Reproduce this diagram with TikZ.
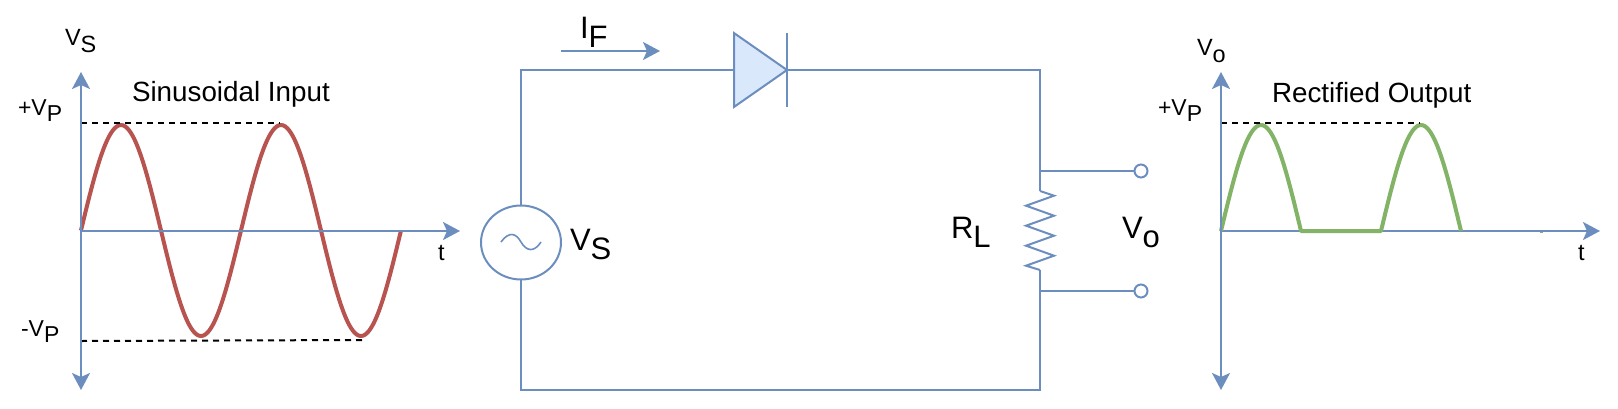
\documentclass[tikz,border=0pt]{standalone}
\usepackage{fontspec}
\setmainfont{Liberation Sans}
\usetikzlibrary{arrows.meta,shapes.geometric}
\definecolor{wireblue}{HTML}{6C8EBF}
\definecolor{diodefill}{HTML}{DAE8FC}
\definecolor{inred}{HTML}{B85450}
\definecolor{outgreen}{HTML}{82B366}
\newcommand{\lowsub}[2]{#1\raisebox{-0.3em}{#2}}
\tikzstyle{wire}=[draw=wireblue,line width=2pt]
\tikzstyle{axis}=[draw=wireblue,line width=2.2pt,arrows={Stealth[length=17pt,width=18pt,inset=4pt]-Stealth[length=17pt,width=18pt,inset=4pt]}]
\tikzstyle{flow}=[draw=wireblue,line width=2.2pt,-{Stealth[length=17pt,width=18pt,inset=4pt]}]
\tikzstyle{level}=[draw=black,line width=2pt,dash pattern=on 6pt off 5pt]
\tikzstyle{wave}=[line width=4pt,line join=round]
\tikzstyle{txt}=[anchor=base west,inner sep=0pt,outer sep=0pt,font=\fontsize{27.8pt}{30pt}\selectfont]
\tikzstyle{small}=[txt,font=\fontsize{23pt}{26pt}\selectfont]
\tikzstyle{mid}=[txt,font=\fontsize{23.5pt}{26pt}\selectfont]
\tikzstyle{big}=[txt,font=\fontsize{31pt}{34pt}\selectfont]
\tikzstyle{terminal}=[circle,draw=wireblue,line width=2pt,fill=white,minimum size=13pt,inner sep=0pt,outer sep=0pt]

\begin{document}
\begin{tikzpicture}[x=1pt,y=-1pt]
  \useasboundingbox (0,0) rectangle (1618,408);

  \coordinate (inO) at (81,231);
  \coordinate (inTop) at (81,72);
  \coordinate (inBot) at (81,390);
  \coordinate (inEnd) at (460,231);
  \coordinate (inHiA) at (81,123);
  \coordinate (inHiB) at (280,123);
  \coordinate (inLoA) at (81,341);
  \coordinate (inLoB) at (363,340);
  \draw[wave,draw=inred] plot[domain=0:320,samples=161,smooth] ({81+\x},{230.5-105.5*sin(\x*2.25)});
  \draw[level] (inHiA) -- (inHiB);
  \draw[level] (inLoA) -- (inLoB);
  \draw[axis] (inBot) -- (inTop);
  \draw[flow] (inO) -- (inEnd);
  \node[mid] (inV) at (65,45) {\lowsub{V}{S}};
  \node[txt] (inTitle) at (132,101) {Sinusoidal Input};
  \node[small] (inHi) at (18,115) {+\lowsub{V}{P}};
  \node[small] (inLo) at (21,336) {-\lowsub{V}{P}};
  \node[mid] (inT) at (438,260) {t};

  \node[ellipse,draw=wireblue,line width=2pt,minimum width=80pt,minimum height=74pt,inner sep=0pt,outer sep=0pt] (source) at (521,242.5) {};
  \draw[draw=wireblue,line width=1.6pt] (501,242) .. controls (509,231) and (516,233) .. (521,242) .. controls (526,251) and (534,253) .. (541,242);
  \node[isosceles triangle,isosceles triangle apex angle=69.8,draw=wireblue,fill=diodefill,line width=2pt,minimum height=53pt,inner sep=0pt,outer sep=0pt,anchor=apex] (diode) at (787,70) {};
  \coordinate (barTop) at (787,33);
  \coordinate (barBot) at (787,107);
  \coordinate (topRight) at (1040,70);
  \coordinate (botRight) at (1040,390);
  \coordinate (botLeft) at (521,390);
  \coordinate (resTop) at (1040,191);
  \coordinate (resBot) at (1040,270);
  \coordinate (tapA) at (1040,171);
  \coordinate (tapB) at (1040,291);
  \coordinate (flowA) at (561,51);
  \coordinate (flowB) at (660,51);
  \node[terminal] (termA) at (1141,171) {};
  \node[terminal] (termB) at (1141,291) {};
  \draw[wire] (source.north) |- (diode.lower side);
  \draw[wire] (barTop) -- (barBot);
  \draw[wire] (diode.apex) -- (topRight) -- (resTop);
  \draw[wire] (resTop) -- ++(14,4.7) -- ++(-28,10) -- ++(28,10) -- ++(-28,10) -- ++(28,10) -- ++(-28,10) -- ++(28,10) -- ++(-28,10) -- (resBot);
  \draw[wire] (resBot) -- (botRight) -- (botLeft) -- (source.south);
  \draw[wire] (tapA) -- (termA.west);
  \draw[wire] (tapB) -- (termB.west);
  \draw[flow] (flowA) -- (flowB);
  \node[big] (flowLabel) at (580,38) {\lowsub{I}{F}};
  \node[big] (sourceLabel) at (570,250) {\lowsub{V}{S}};
  \node[big] (loadLabel) at (951,238) {\lowsub{R}{L}};
  \node[big] (outLabel) at (1122,238) {\lowsub{V}{o}};

  \coordinate (outO) at (1221,231);
  \coordinate (outTop) at (1221,72);
  \coordinate (outBot) at (1221,390);
  \coordinate (outEnd) at (1600,231);
  \coordinate (outHiA) at (1221,123);
  \coordinate (outHiB) at (1420,123);
  \coordinate (nickA) at (1539.5,232.5);
  \coordinate (nickB) at (1542.5,232.5);
  \draw[flow] (outO) -- (outEnd);
  \draw[wave,draw=outgreen] plot[domain=0:80,samples=41,smooth] ({1221+\x},{231-106*sin(\x*2.25)}) -- (1381,231) -- plot[domain=0:80,samples=41,smooth] ({1381+\x},{231-106*sin(\x*2.25)});
  \draw[draw=outgreen,line width=1.5pt] (nickA) -- (nickB);
  \draw[level] (outHiA) -- (outHiB);
  \draw[axis] (outBot) -- (outTop);
  \node[mid] (outV) at (1197,55) {\lowsub{V}{o}};
  \node[txt] (outTitle) at (1272,102) {Rectified Output};
  \node[small] (outHi) at (1158,115) {+\lowsub{V}{P}};
  \node[mid] (outT) at (1578,260) {t};
\end{tikzpicture}
\end{document}
